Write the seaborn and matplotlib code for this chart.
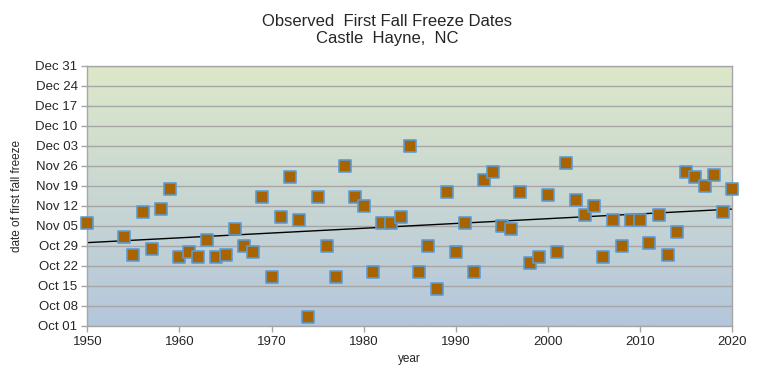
import numpy as np
import pandas as pd
import matplotlib
matplotlib.use("Agg")
import matplotlib.pyplot as plt
from matplotlib.colors import LinearSegmentedColormap
import seaborn as sns

# ---- data ----
years = [1950, 1954, 1955, 1956, 1957, 1958, 1959, 1960, 1961, 1962, 1963, 1964,
         1965, 1966, 1967, 1968, 1969, 1970, 1971, 1972, 1973, 1974, 1975, 1976,
         1977, 1978, 1979, 1980, 1981, 1982, 1983, 1984, 1985, 1986, 1987, 1988,
         1989, 1990, 1991, 1992, 1993, 1994, 1995, 1996, 1997, 1998, 1999, 2000,
         2001, 2002, 2003, 2004, 2005, 2006, 2007, 2008, 2009, 2010, 2011, 2012,
         2013, 2014, 2015, 2016, 2017, 2018, 2019, 2020]
freeze_dates = ["Nov 06", "Nov 01", "Oct 26", "Nov 10", "Oct 28", "Nov 11", "Nov 18",
                "Oct 25", "Oct 27", "Oct 25", "Oct 31", "Oct 25", "Oct 26", "Nov 04",
                "Oct 29", "Oct 27", "Nov 15", "Oct 18", "Nov 08", "Nov 22", "Nov 07",
                "Oct 04", "Nov 15", "Oct 29", "Oct 18", "Nov 26", "Nov 15", "Nov 12",
                "Oct 20", "Nov 06", "Nov 06", "Nov 08", "Dec 03", "Oct 20", "Oct 29",
                "Oct 14", "Nov 17", "Oct 27", "Nov 06", "Oct 20", "Nov 21", "Nov 24",
                "Nov 05", "Nov 04", "Nov 17", "Oct 23", "Oct 25", "Nov 16", "Oct 27",
                "Nov 27", "Nov 14", "Nov 09", "Nov 12", "Oct 25", "Nov 07", "Oct 29",
                "Nov 07", "Nov 07", "Oct 30", "Nov 09", "Oct 26", "Nov 03", "Nov 24",
                "Nov 22", "Nov 19", "Nov 23", "Nov 10", "Nov 18"]
y_tick_labels = ["Oct 01", "Oct 08", "Oct 15", "Oct 22", "Oct 29", "Nov 05", "Nov 12",
                 "Nov 19", "Nov 26", "Dec 03", "Dec 10", "Dec 17", "Dec 24", "Dec 31"]
x_ticks = [1950, 1960, 1970, 1980, 1990, 2000, 2010, 2020]

def to_day(s):
    d = pd.to_datetime("2001 " + s, format="%Y %b %d")
    return (d - pd.Timestamp("2001-10-01")).days

df = pd.DataFrame({"year": years, "day": [to_day(s) for s in freeze_dates]})
tick_days = [to_day(s) for s in y_tick_labels]

# ---- figure ----
sns.set_style("white")
plt.rcParams["font.family"] = ["Liberation Sans", "DejaVu Sans"]

fig = plt.figure(figsize=(7.62, 3.85), dpi=100)
ax = fig.add_axes([87.3 / 762, 1 - 326 / 385, (732.3 - 87.3) / 762, 260 / 385])

ymin, ymax = tick_days[0], tick_days[-1]
xmin, xmax = x_ticks[0], x_ticks[-1]

cmap = LinearSegmentedColormap.from_list("bg", ["#b4c6dc", "#dde8c9"])
grad = np.linspace(0, 1, 256).reshape(-1, 1)
ax.imshow(grad, cmap=cmap, origin="lower", aspect="auto",
          extent=[xmin, xmax, ymin, ymax], zorder=0)

for t in tick_days:
    ax.axhline(t, color="#a6a6a6", lw=1.0, zorder=1)

sns.regplot(data=df, x="year", y="day", ax=ax, scatter=False, ci=None,
            truncate=True, line_kws={"color": "black", "lw": 1.0, "zorder": 2})
sns.scatterplot(data=df, x="year", y="day", ax=ax, marker="s", s=64,
                color="#a86400", edgecolor="#5b9bd5", linewidth=1.2, zorder=3,
                clip_on=False)

ax.set_xlim(xmin, xmax)
ax.set_ylim(ymin, ymax)
ax.set_xticks(x_ticks)
ax.set_xticklabels([str(x) for x in x_ticks], fontsize=9.5)
ax.set_yticks(tick_days)
ax.set_yticklabels(y_tick_labels, fontsize=9.5)
ax.tick_params(axis="both", direction="out", length=4, color="#a6a6a6", width=1,
               pad=3, left=True, bottom=True)
for sp in ax.spines.values():
    sp.set_color("#a6a6a6")
    sp.set_linewidth(1.0)
    sp.set_visible(True)

ax.set_xlabel("year", fontsize=8.5, labelpad=4)
ax.set_ylabel("date of first fall freeze", fontsize=8.5, labelpad=9)

fig.text(0.508, 1 - 30 / 385, "Observed  First Fall Freeze Dates\nCastle  Hayne,  NC",
         ha="center", va="center", fontsize=12, linespacing=1.2)

fig.savefig("out.png", dpi=100)
